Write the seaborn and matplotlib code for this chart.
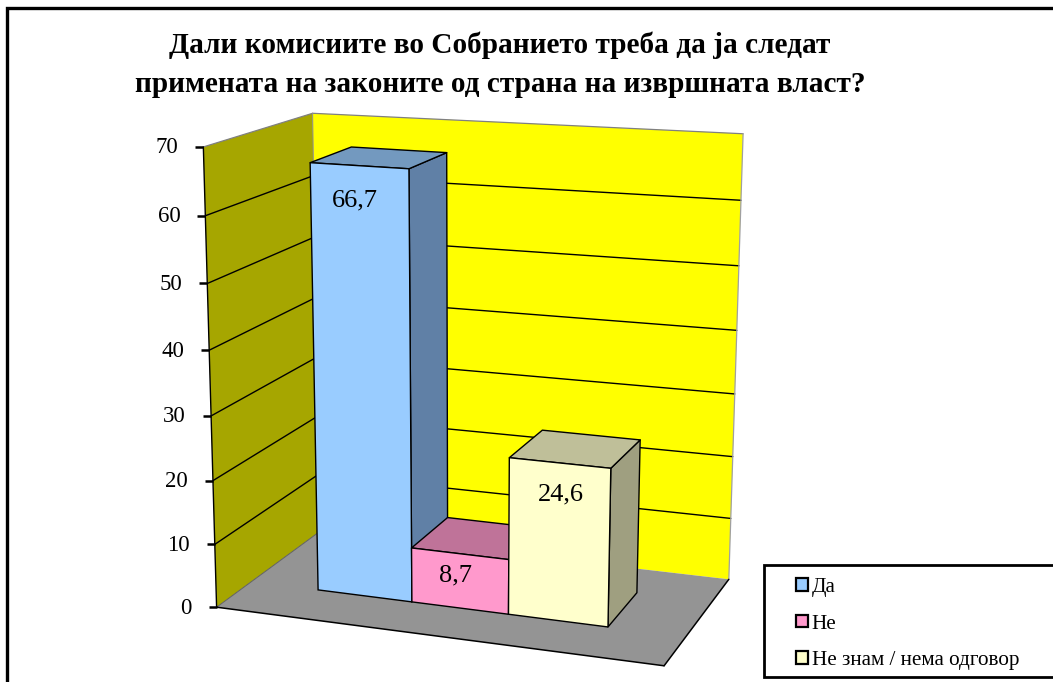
import numpy as np
import pandas as pd
import matplotlib
matplotlib.use("Agg")
import matplotlib.pyplot as plt
import matplotlib.transforms as mtransforms
from matplotlib.patches import Polygon, Patch, Rectangle
import seaborn as sns

# ---- data ----
title = "Дали комисиите во Собранието треба да ја следат\nпримената на законите од страна на извршната власт?"
categories = ["Да", "Не", "Не знам / нема одговор"]
values = [66.7, 8.7, 24.6]
value_labels = ["66,7", "8,7", "24,6"]
axis_ticks = [0, 10, 20, 30, 40, 50, 60, 70]
front_colors = ["#99CCFF", "#FF99CC", "#FFFFCC"]
top_colors = ["#7399BF", "#BF7399", "#BFBF99"]
side_colors = ["#6080A6", "#A0607F", "#9F9F80"]
AXIS_MAX = 70.0

sns.set_theme(style="white")
plt.rcParams["font.family"] = ["Liberation Serif", "DejaVu Serif"]

# ---- cameras of the 3D chart, fitted from corners seen in the reference ----
# chart box: X 0..1 left to right, value 0..70, Z 0..1 front to back
box_anchors = [
    (0, 0, 0, 217, 606), (0, 0, 1, 319, 533), (1, 0, 1, 729, 578), (1, 0, 0, 664, 667),
    (0, AXIS_MAX, 0, 203, 147), (0, AXIS_MAX, 1, 313, 113), (1, AXIS_MAX, 1, 743, 134),
]
# bars: (bar position, value, bar depth 0..1, pixel x, pixel y)
bar_anchors = [
    (0, 66.7, 0, 311, 162), (1, 66.7, 0, 409, 169), (1, 66.7, 1, 446, 153), (0, 66.7, 1, 351, 147),
    (0, 0, 0, 318, 590), (1, 0, 0, 412, 602), (1, 8.7, 1, 448, 518),
    (1, 8.7, 0, 412, 548), (2, 8.7, 0, 508, 560), (2, 0, 0, 508, 614),
    (2, 24.6, 0, 509, 457), (3, 24.6, 0, 611, 469), (3, 0, 0, 608, 627),
    (2, 24.6, 1, 542, 430), (3, 24.6, 1, 641, 440), (3, 0, 1, 637, 592),
]


def fit_camera(rows):
    A, b = [], []
    for X, v, Z, u, w in rows:
        Y = v / AXIS_MAX
        A.append([X, Y, Z, 1, 0, 0, 0, 0, -u * X, -u * Y, -u * Z])
        b.append(u)
        A.append([0, 0, 0, 0, X, Y, Z, 1, -w * X, -w * Y, -w * Z])
        b.append(w)
    p = np.linalg.lstsq(np.array(A, float), np.array(b, float), rcond=None)[0]
    return np.append(p, 1.0).reshape(3, 4)


P_box = fit_camera(box_anchors)
P_bar = fit_camera(bar_anchors)


def _proj(P, X, v, Z):
    q = P @ np.array([X, v / AXIS_MAX, Z, 1.0])
    return q[0] / q[2], q[1] / q[2]


def project(X, v, Z):
    return _proj(P_box, X, v, Z)


def bar_point(pos, v, depth):
    return _proj(P_bar, pos, v, depth)


class FrontFace(mtransforms.Transform):
    """Maps seaborn's (category position, value) onto the bars' front plane."""
    input_dims = output_dims = 2
    is_separable = False
    has_inverse = False

    def transform_non_affine(self, xy):
        xy = np.asarray(xy, float)
        out = np.empty_like(xy)
        for i, (u, v) in enumerate(xy):
            out[i] = bar_point(u + 0.5, v, 0.0)
        return out


# ---- figure ----
fig = plt.figure(figsize=(10.53, 6.82), dpi=100, facecolor="white")
ax = fig.add_axes([0, 0, 1, 1])

df = pd.DataFrame({"answer": categories, "value": values})
sns.barplot(data=df, x="answer", y="value", hue="answer", palette=front_colors,
            width=1.0, dodge=False, legend=False, saturation=1.0, ax=ax)

ax.set_xlim(0, 1053)
ax.set_ylim(682, 0)
ax.set_axis_off()


def poly(pts, fc, ec="none", lw=0.0, z=1.0):
    ax.add_patch(Polygon(pts, closed=True, facecolor=fc, edgecolor=ec, linewidth=lw,
                         zorder=z, joinstyle="round", clip_on=False))


def edge(a, b, color="black", lw=1.0, z=1.5):
    ax.plot([a[0], b[0]], [a[1], b[1]], color=color, lw=lw, zorder=z, solid_capstyle="round")


# walls and floor
poly([project(0, 0, 1), project(0, AXIS_MAX, 1), project(1, AXIS_MAX, 1), project(1, 0, 1)], "#FFFF00", z=1.0)
poly([project(0, 0, 0), project(0, AXIS_MAX, 0), project(0, AXIS_MAX, 1), project(0, 0, 1)], "#A6A600", z=1.0)
poly([project(0, 0, 0), project(0, 0, 1), project(1, 0, 1), project(1, 0, 0)], "#949494", z=1.1)

for t in axis_ticks[1:-1]:
    edge(project(0, t, 0), project(0, t, 1), lw=1.0, z=1.2)
    edge(project(0, t, 1), project(1, t, 1), lw=1.0, z=1.2)

edge(project(0, AXIS_MAX, 0), project(0, AXIS_MAX, 1), color="#808080", lw=0.9)
edge(project(0, AXIS_MAX, 1), project(1, AXIS_MAX, 1), color="#808080", lw=0.9)
edge(project(1, AXIS_MAX, 1), project(1, 0, 1), color="#a0a0a0", lw=0.9)
edge(project(0, AXIS_MAX, 1), project(0, 0, 1), color="#909090", lw=0.7)
edge(project(0, 0, 1), project(0, 0, 0), color="#606060", lw=0.7)
edge(project(0, AXIS_MAX, 0), project(0, 0, 0), lw=1.0)
edge(project(0, 0, 0), project(1, 0, 0), lw=1.1)
edge(project(1, 0, 0), project(1, 0, 1), lw=1.1)

# axis ticks and labels
for t in axis_ticks:
    x, y = project(0, t, 0)
    ax.plot([x - 8, x], [y, y], color="black", lw=1.8, zorder=1.6, solid_capstyle="butt")
    ax.text(x - 25, y + 1, str(t), ha="right", va="center", fontsize=16.5, color="black")

# bars: seaborn's rectangles carried to the front plane, side and top added behind them
front_transform = FrontFace() + ax.transData
for i, container in enumerate(ax.containers):
    rect = container[0]
    x0 = rect.get_x() + 0.5
    x1 = x0 + rect.get_width()
    h = rect.get_height()
    base = 3 + 2 * i
    poly([bar_point(x1, 0, 0), bar_point(x1, h, 0), bar_point(x1, h, 1), bar_point(x1, 0, 1)],
         side_colors[i], "black", 1.0, base)
    poly([bar_point(x0, h, 0), bar_point(x0, h, 1), bar_point(x1, h, 1), bar_point(x1, h, 0)],
         top_colors[i], "black", 1.0, base)
    rect.set_transform(front_transform)
    rect.set_edgecolor("black")
    rect.set_linewidth(1.0)
    rect.set_zorder(base + 1)
    rect.set_clip_on(False)

# value labels
label_drop = [5.1, 3.5, 4.8]
label_shift = [-5, -4, 2]
for i, (v, s) in enumerate(zip(values, value_labels)):
    x, y = bar_point(i + 0.5, v - label_drop[i], 0)
    ax.text(x + label_shift[i], y, s, ha="center", va="center", fontsize=19, color="black", zorder=20)

# title
ax.text(500, 64.5, title, ha="center", va="center", fontsize=21.1, fontweight="bold",
        color="black", linespacing=1.55, zorder=20)

# chart frame (runs off the picture on the right and bottom)
ax.plot([7, 7, 1060], [700, 8, 8], color="black", lw=2.4, zorder=25, solid_joinstyle="miter", clip_on=True)

# legend box
ax.add_patch(Rectangle((763.5, 565), 320, 112, facecolor="white", edgecolor="black", linewidth=2.0, zorder=21))
handles = [Patch(facecolor=front_colors[i], edgecolor="black", linewidth=1.6) for i in range(3)]
leg = ax.legend(handles, categories, loc="upper left", bbox_to_anchor=(796 / 1053, 1 - 578 / 682),
                bbox_transform=ax.transAxes, frameon=False, fontsize=15.2,
                handlelength=0.55, handleheight=0.55, handletextpad=0.2, labelspacing=0.83,
                borderpad=0, borderaxespad=0, labelcolor="black")
leg.set_zorder(22)

fig.savefig("out.png", dpi=100, facecolor="white")
